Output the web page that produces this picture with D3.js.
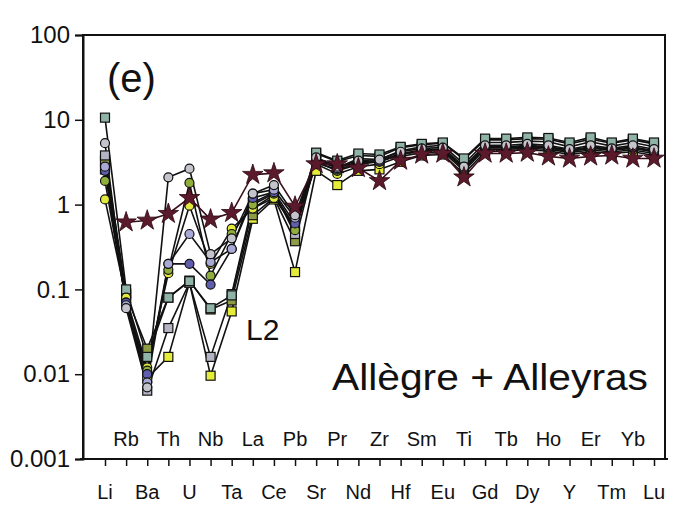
<!DOCTYPE html>
<html><head><meta charset="utf-8">
<script src="https://cdn.jsdelivr.net/npm/d3@7"></script>
<style>
body{margin:0;background:#fff;}
svg text{font-family:"Liberation Sans",Arial,sans-serif;fill:#111;}
</style></head>
<body><svg id="c" width="678" height="511"></svg>
<script>
const elements = ["Li","Rb","Ba","Th","U","Nb","Ta","La","Ce","Pb","Sr","Pr","Nd","Zr","Hf","Sm","Eu","Ti","Gd","Tb","Dy","Ho","Y","Er","Tm","Yb","Lu"];
const yTicks = [0.001,0.01,0.1,1,10,100];
const yTickLabels = ["0.001","0.01","0.1","1","10","100"];

// series values (normalized), one array per sample
const grayCircle   = [5.3,0.060,0.007,2.1,2.65,0.26,0.40,1.35,1.70,0.75,3.6,2.8,3.3,3.4,4.2,4.6,4.7,2.8,5.0,5.0,5.2,5.0,4.5,5.0,4.6,5.0,4.5];
const oliveCircle  = [1.9,0.070,0.011,0.17,1.80,0.145,0.45,1.00,1.35,0.50,3.2,2.5,3.0,3.2,3.9,4.3,4.4,2.6,4.7,4.7,4.8,4.7,4.3,4.6,4.4,4.6,4.2];
const yellowCircle = [1.15,0.080,0.012,0.155,0.97,0.20,0.52,0.90,1.20,0.54,3.0,2.3,2.8,3.0,3.7,4.1,4.2,2.5,4.5,4.5,4.6,4.5,4.1,4.4,4.2,4.4,4.0];
const lavCircle    = [2.8,0.065,0.008,0.20,0.45,0.21,0.30,1.35,1.50,0.70,3.3,2.7,3.2,3.3,4.0,4.4,4.5,2.7,4.8,4.8,5.0,4.8,4.4,4.8,4.5,4.8,4.3];
const blueCircle   = [2.5,0.070,0.010,0.20,0.20,0.114,0.30,1.20,1.40,0.60,3.1,2.6,3.1,3.2,3.9,4.3,4.4,2.7,4.7,4.7,4.9,4.7,4.2,4.7,4.4,4.7,4.2];
const graySquare   = [3.8,0.090,0.0064,0.035,0.12,0.016,0.088,1.05,1.40,0.45,4.0,3.2,3.8,3.7,4.7,5.1,5.3,3.4,5.8,5.8,6.0,5.9,5.2,5.9,5.3,5.8,5.2];
const yellowSquare = [2.6,0.075,0.009,0.016,0.12,0.0096,0.055,0.68,1.15,0.16,2.5,1.7,2.5,2.6,3.2,3.8,3.9,2.3,4.2,4.3,4.4,4.3,3.9,4.2,4.0,4.2,3.8];
const oliveSquare  = [3.3,0.085,0.020,0.080,0.127,0.058,0.074,0.75,1.20,0.37,3.5,2.7,3.5,3.4,4.3,4.8,5.0,3.0,5.4,5.4,5.6,5.5,4.8,5.5,4.9,5.4,4.8];
const tealSquare   = [10.6,0.100,0.016,0.080,0.125,0.060,0.085,0.90,1.30,0.55,4.1,3.3,4.0,3.9,4.8,5.2,5.4,3.5,6.0,6.0,6.2,6.1,5.4,6.2,5.4,6.0,5.4];
const starSample   = [null,0.62,0.65,0.78,1.20,0.67,0.80,2.25,2.35,0.95,3.0,3.0,2.7,1.9,3.3,3.9,4.0,2.1,4.0,4.0,4.1,3.7,3.5,3.7,3.8,3.5,3.5];

const series = [
  {values: yellowSquare, shape:"square", fill:"#e6ec3a"},
  {values: oliveSquare,  shape:"square", fill:"#8d9c45"},
  {values: graySquare,   shape:"square", fill:"#b4b4c4"},
  {values: tealSquare,   shape:"square", fill:"#8fb3a6"},
  {values: yellowCircle, shape:"circle", fill:"#e2ea3e"},
  {values: oliveCircle,  shape:"circle", fill:"#8fae3c"},
  {values: blueCircle,   shape:"circle", fill:"#5f5fae"},
  {values: lavCircle,    shape:"circle", fill:"#a9a9d6"},
  {values: grayCircle,   shape:"circle", fill:"#c4c4cc"},
  {values: starSample,   shape:"star",   fill:"#5a1a2c"}
];

const svg = d3.select("#c");
const L=83, R=665, T=35, B=459;
const x = d3.scalePoint().domain(elements).range([105,654]);
const y = d3.scaleLog().domain([0.001,100]).range([B,T]);

// frame
svg.append("rect").attr("x",L).attr("y",T).attr("width",R-L).attr("height",B-T)
  .attr("fill","none").attr("stroke","#111").attr("stroke-width",2);

// y axis
const yAxis = d3.axisLeft(y).tickValues(yTicks).tickFormat((d,i)=>yTickLabels[i]).tickSize(8).tickPadding(5);
const ga = svg.append("g").attr("transform",`translate(${L},0)`).call(yAxis);
ga.select(".domain").attr("stroke","#111").attr("stroke-width",2);
ga.selectAll(".tick line").attr("stroke","#111").attr("stroke-width",1.5);
ga.selectAll(".tick text").attr("font-size",24).attr("font-family","Liberation Sans, Arial").attr("fill","#111");

// x axis
const xAxis = d3.axisBottom(x).tickSize(7).tickFormat("");
const gx = svg.append("g").attr("transform",`translate(0,${B})`).call(xAxis);
gx.select(".domain").remove();
gx.selectAll(".tick line").attr("stroke","#111").attr("stroke-width",1.5);
svg.append("line").attr("x1",L-3).attr("x2",R+3).attr("y1",B).attr("y2",B).attr("stroke","#111").attr("stroke-width",2);

svg.selectAll(".elab").data(elements).enter().append("text")
  .attr("x",d=>x(d)).attr("y",(d,i)=> i%2===0 ? 499 : 446)
  .attr("text-anchor","middle").attr("font-size",20).text(d=>d);

// lines
const line = d3.line().defined(d=>d!=null).x((d,i)=>x(elements[i])).y(d=>y(d));
series.forEach(s=>{
  svg.append("path").datum(s.values).attr("d",line)
    .attr("fill","none").attr("stroke",s.shape==="star"?"#3a0f1c":"#111").attr("stroke-width",1.6);
});

// markers
const star = d3.symbol().type(d3.symbolStar).size(130);
series.forEach(s=>{
  const pts = s.values.map((v,i)=>({v,e:elements[i]})).filter(p=>p.v!=null);
  const g = svg.append("g");
  if(s.shape==="circle"){
    g.selectAll("circle").data(pts).enter().append("circle")
      .attr("cx",p=>x(p.e)).attr("cy",p=>y(p.v)).attr("r",4.5)
      .attr("fill",s.fill).attr("stroke","#111").attr("stroke-width",1.2);
  } else if(s.shape==="square"){
    g.selectAll("rect").data(pts).enter().append("rect")
      .attr("x",p=>x(p.e)-4.5).attr("y",p=>y(p.v)-4.5).attr("width",9).attr("height",9)
      .attr("fill",s.fill).attr("stroke","#111").attr("stroke-width",1.2);
  } else {
    g.selectAll("path").data(pts).enter().append("path")
      .attr("d",star).attr("transform",p=>`translate(${x(p.e)},${y(p.v)})`)
      .attr("fill",s.fill).attr("stroke","#2a0810").attr("stroke-width",0.8);
  }
});

// annotations
svg.append("text").attr("x",107).attr("y",92).attr("font-size",40).text("(e)");
svg.append("text").attr("x",246).attr("y",340).attr("font-size",30).text("L2");
svg.append("text").attr("x",332).attr("y",390).attr("font-size",36)
  .attr("textLength",316).attr("lengthAdjust","spacingAndGlyphs").text("Allègre + Alleyras");
</script></body></html>
